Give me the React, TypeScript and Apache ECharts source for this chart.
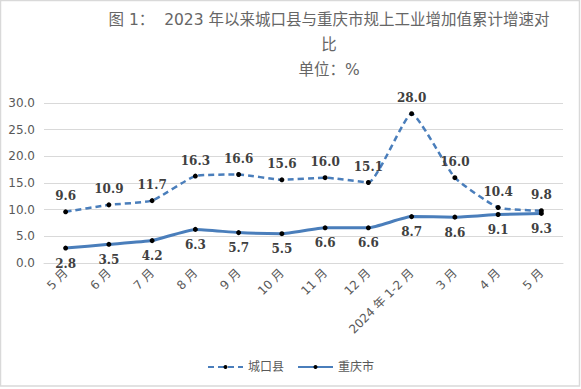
import React, { useEffect, useRef } from "react";
import * as echarts from "echarts";

const categories = ["5 月", "6 月", "7 月", "8 月", "9 月", "10 月", "11 月", "12 月", "2024 年 1-2 月", "3 月", "4 月", "5 月"];
const chengkou = [9.6, 10.9, 11.7, 16.3, 16.6, 15.6, 16.0, 15.1, 28.0, 16.0, 10.4, 9.8];
const chongqing = [2.8, 3.5, 4.2, 6.3, 5.7, 5.5, 6.6, 6.6, 8.7, 8.6, 9.1, 9.3];
const seriesNames = ["城口县", "重庆市"];

const SANS = "DejaVu Sans, Noto Sans CJK SC, sans-serif";
const LABEL_FONT = "DejaVu Serif, Noto Sans CJK SC, serif";
const BLUE = "#4A7EBB";

export default function App() {
  const ref = useRef<HTMLDivElement>(null);
  useEffect(() => {
    if (!ref.current) return;
    const chart = echarts.init(ref.current, undefined, { renderer: "svg" });
    const dataLabel = (pos: string) => ({
      show: true,
      position: pos,
      distance: 7,
      fontFamily: LABEL_FONT,
      fontWeight: "bold",
      fontSize: 12,
      color: "#404040",
      formatter: (p: any) => Number(p.value).toFixed(1),
    });
    chart.setOption({
      animation: false,
      backgroundColor: "#ffffff",
      title: {
        text: "图 1：  2023 年以来城口县与重庆市规上工业增加值累计增速对\n比\n单位：%",
        left: 329,
        top: 7.5,
        padding: 0,
        textAlign: "center",
        textStyle: {
          fontFamily: SANS,
          fontSize: 15.5,
          fontWeight: "normal",
          color: "#666666",
          lineHeight: 25,
        },
      },
      legend: {
        data: seriesNames,
        bottom: 11,
        left: "center",
        itemWidth: 35,
        itemHeight: 5,
        itemGap: 13,
        textStyle: { fontFamily: SANS, fontSize: 12, color: "#595959" },
      },
      grid: { left: 44, right: 18, top: 103, bottom: 126 },
      xAxis: {
        type: "category",
        data: categories,
        boundaryGap: true,
        axisLine: { show: true, lineStyle: { color: "#d9d9d9", width: 1 } },
        axisTick: { show: false },
        axisLabel: {
          interval: 0,
          rotate: 45,
          margin: 8,
          fontFamily: SANS,
          fontSize: 12,
          color: "#595959",
        },
      },
      yAxis: {
        type: "value",
        min: 0,
        max: 30,
        interval: 5,
        axisLine: { show: false },
        axisTick: { show: false },
        splitLine: { lineStyle: { color: "#d9d9d9", width: 1 } },
        axisLabel: {
          margin: 9,
          fontFamily: SANS,
          fontSize: 12,
          color: "#595959",
          formatter: (v: number) => v.toFixed(1),
        },
      },
      series: [
        {
          name: seriesNames[0],
          type: "line",
          data: chengkou,
          smooth: 0.15,
          symbol: "circle",
          symbolSize: 5,
          itemStyle: { color: "#000000" },
          lineStyle: { color: BLUE, width: 2.5, type: [6, 4] },
          label: dataLabel("top"),
          z: 3,
        },
        {
          name: seriesNames[1],
          type: "line",
          data: chongqing,
          smooth: 0.15,
          symbol: "circle",
          symbolSize: 5,
          itemStyle: { color: "#000000" },
          lineStyle: { color: BLUE, width: 3, type: "solid" },
          label: dataLabel("bottom"),
          z: 2,
        },
      ],
      graphic: [
        {
          type: "rect",
          shape: { x: 0.5, y: 0.5, width: 579, height: 385.5 },
          style: { fill: "none", stroke: "#d9d9d9", lineWidth: 1.5 },
          silent: true,
        },
      ],
    });
    return () => chart.dispose();
  }, []);
  return (
    <div
      ref={ref}
      style={{ position: "absolute", left: 0, top: 0, width: 581, height: 389 }}
    />
  );
}
